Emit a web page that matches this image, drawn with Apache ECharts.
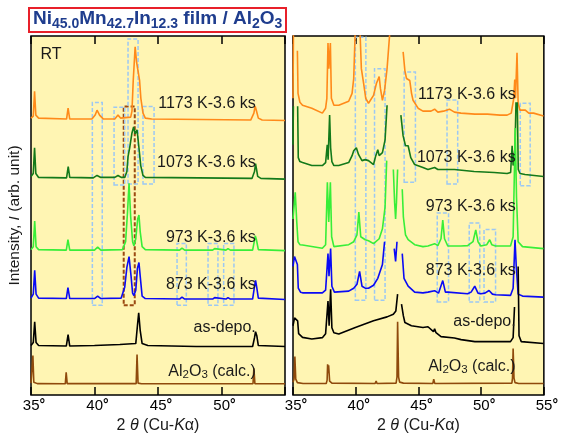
<!DOCTYPE html>
<html>
<head>
<meta charset="utf-8">
<title>Ni-Mn-In film XRD</title>
<script src="https://cdn.jsdelivr.net/npm/echarts@6/dist/echarts.min.js"></script>
<style>
  html, body { margin: 0; padding: 0; background: #fff; }
  #chart { width: 561px; height: 439px; }
</style>
</head>
<body>
<div id="chart"></div>
<script>
// XRD patterns, [2theta (deg), intensity (arb. unit, already stacked)]
// left panel: linear scale, right panel: weak peaks enlarged
var sampleNames = ['1173 K-3.6 ks', '1073 K-3.6 ks', '973 K-3.6 ks', '873 K-3.6 ks', 'as-depo.', 'Al2O3 (calc.)'];
var xTicks = [35, 40, 45, 50, 55];

var left1173 = [[35.0,280],[35.18,282],[35.28,307],[35.38,283],[35.6,280],[37.8,279],[37.92,290],[38.05,279],[39.8,279],[40.05,283],[40.2,288],[40.4,283],[40.7,279],[41.6,279],[41.85,283],[42.05,280],[42.85,281],[42.95,287],[43.05,318],[43.2,352],[43.32,336],[43.43,338],[43.55,318],[43.65,300],[43.82,285],[44.0,280],[44.5,279],[52.3,278],[52.55,285],[52.65,292],[52.72,289],[52.78,291],[52.9,280],[53.2,278],[55,277.5]];
var left1073 = [[35.0,221],[35.18,224],[35.28,250],[35.38,224],[35.6,220],[37.8,219.5],[37.93,231],[38.05,220],[39.9,219.5],[40.2,222],[40.5,220],[41.6,220],[41.85,222],[42.1,220],[42.38,220],[42.55,226],[42.64,241],[42.77,250],[42.95,265],[43.08,271],[43.2,264],[43.35,268],[43.5,250],[43.64,232],[43.82,222],[44.0,220],[52.4,219],[52.6,226],[52.68,234],[52.75,229],[52.85,221],[53.1,219],[55,218.3]];
var left973 = [[35.0,147],[35.18,150],[35.29,176],[35.4,150],[35.6,147],[37.78,146.5],[37.91,157],[38.05,146.5],[40.0,146.5],[40.25,149.5],[40.5,146.5],[42.2,147],[42.45,155],[42.6,185],[42.72,214],[42.85,180],[43.0,155],[43.1,151],[43.25,158],[43.4,178],[43.5,182],[43.6,165],[43.75,150],[44.0,147],[46.7,146.5],[46.89,148.5],[47.1,146.5],[49.3,146.5],[49.46,148],[49.6,146.5],[50.35,146.5],[50.51,148],[50.7,146.5],[52.45,146.5],[52.58,155],[52.66,161],[52.75,157],[52.9,147],[55,146]];
var left873 = [[35.0,98],[35.18,102],[35.29,126],[35.4,102],[35.6,98],[37.78,97.5],[37.91,108.5],[38.05,97.5],[40.0,97.5],[40.25,100],[40.5,97.5],[42.1,98],[42.38,109],[42.55,129],[42.72,140],[42.88,120],[43.0,103],[43.1,100.5],[43.25,106],[43.38,128],[43.5,134],[43.6,120],[43.75,100],[44.0,97.5],[46.7,97],[46.89,99],[47.1,97],[49.3,97],[49.46,98.5],[49.6,97],[50.35,97],[50.51,98.5],[50.7,97],[52.45,97],[52.58,108],[52.68,116],[52.76,110],[52.9,98],[55,96.5]];
var leftAsDepo = [[35.0,50],[35.18,53],[35.29,74],[35.4,53],[35.6,50],[37.78,49.5],[37.92,61],[38.05,49.5],[40.0,50],[42.0,51],[43.25,52],[43.38,70],[43.48,83],[43.6,65],[43.75,52],[44.2,50],[48.0,49],[52.45,49],[52.6,58],[52.68,64],[52.78,60],[52.9,50],[55,49]];
var leftAl2O3 = [[35.0,12],[35.1,14],[35.15,40],[35.22,13],[35.5,11.5],[37.7,11.3],[37.77,23],[37.85,11.5],[43.28,11.5],[43.35,41],[43.43,12],[43.7,11.3],[52.48,11.3],[52.55,27],[52.63,11.5],[55,11.3]];

var right1173 = [[35.0,300],[35.04,372],[35.2,null],[35.35,348],[35.4,305],[35.55,296],[35.76,293],[36.5,290],[37.34,285],[37.6,290],[37.7,300],[37.79,356],[37.86,330],[37.98,356],[38.06,300],[38.26,293],[38.65,293],[39.44,297],[39.71,305],[39.84,320],[39.97,372],[40.2,null],[40.33,372],[40.45,330],[40.63,315],[40.8,300],[41.02,295],[41.42,303],[41.65,315],[41.87,322],[41.97,310],[42.13,298],[42.3,308],[42.5,330],[42.75,372],[43.0,null],[43.78,347],[43.92,328],[44.05,320],[44.2,318],[44.31,318],[44.45,305],[44.57,298],[44.97,290],[45.36,287],[46.0,287],[46.29,289],[46.55,286],[47.0,287],[47.47,289],[47.87,286],[48.39,285],[49.5,284],[50.5,284],[51.5,283],[52.07,283],[52.4,285],[52.6,300],[52.68,319],[52.74,300],[52.86,346],[52.95,295],[53.1,288],[53.52,288],[53.8,285],[54.18,285],[54.97,282]];
var right1073 = [[35.0,253],[35.03,292],[35.2,null],[35.37,292],[35.42,240],[35.55,236],[35.76,235],[36.5,232],[37.34,232],[37.6,235],[37.73,253],[37.8,238],[37.92,283],[38.0,250],[38.1,236],[38.26,232],[38.65,232],[39.44,235],[39.71,242],[39.84,247],[40.05,250],[40.23,243],[40.5,237],[40.76,238],[41.02,237],[41.42,233],[41.6,242],[41.76,248],[41.87,242],[42.13,245],[42.34,258],[42.5,293],[42.6,null],[43.6,283],[43.78,262],[43.97,252],[44.18,252],[44.39,240],[44.7,233],[45.36,230],[45.76,228],[46.29,230],[46.55,228],[47.87,228],[49.44,226],[51.03,225],[52.07,224],[52.35,225],[52.47,252],[52.55,232],[52.7,250],[52.78,296],[52.82,null],[52.88,296],[52.96,228],[53.1,224],[53.5,223],[54.97,221]];
var right973 = [[35.0,178],[35.18,205],[35.3,175],[35.4,155],[35.55,152],[35.76,151.7],[37.34,148.3],[37.6,152],[37.74,215],[37.85,175],[37.98,215],[38.08,160],[38.26,150],[39.44,152],[39.84,155],[40.1,162],[40.25,185],[40.4,160],[40.76,157],[41.02,156],[41.42,153],[41.87,158],[42.13,168],[42.34,190],[42.47,237],[42.55,null],[43.0,228],[43.1,195],[43.18,178],[43.25,195],[43.34,228],[43.45,null],[43.71,208],[43.8,180],[43.97,162],[44.18,157],[44.7,152],[45.36,150],[45.76,150.7],[46.29,153],[46.55,151],[46.8,158],[46.94,177],[47.08,158],[47.34,150.7],[48.39,150.7],[48.92,151],[49.35,155],[49.57,167],[49.75,155],[49.97,150.7],[50.45,152],[50.68,157],[50.85,152],[51.15,150.7],[52.34,150.7],[52.55,160],[52.72,270],[52.82,200],[52.95,155],[53.3,150],[54.97,148]];
var right873 = [[35.0,130],[35.12,140],[35.2,138],[35.35,132],[35.42,108],[35.6,104],[35.76,103.3],[37.34,103.3],[37.6,106],[37.79,143],[37.87,120],[38.0,148],[38.1,110],[38.3,104],[39.44,105],[39.84,108],[40.1,112],[40.31,125],[40.5,110],[40.76,108],[41.02,108],[41.42,111],[41.76,118],[42.13,132],[42.3,155],[42.4,null],[43.07,148],[43.18,135],[43.29,155],[43.4,null],[43.71,143],[43.85,118],[44.18,110],[44.7,104],[45.36,103.3],[45.76,104],[46.29,105.5],[46.6,103],[46.94,115.7],[47.15,104],[47.34,104],[48.92,102.3],[49.2,104],[49.49,110],[49.75,103],[49.97,102.3],[50.3,103],[50.63,105.7],[50.9,102],[51.15,101.3],[52.34,100.7],[52.55,108],[52.7,157],[52.8,130],[52.95,102],[53.3,100],[54.97,99]];
var rightAsDepo = [[35.0,70],[35.12,78],[35.25,76],[35.37,75],[35.45,62],[35.76,58.3],[36.5,56.7],[37.34,58],[37.6,62],[37.79,95],[37.88,70],[38.0,107],[38.1,68],[38.26,63],[38.65,61.7],[39.97,68.3],[41.42,75],[42.5,79],[43.0,81.7],[43.2,85],[43.34,102],[43.5,null],[43.65,92],[43.8,80],[43.92,73.3],[44.44,70],[45.36,68.3],[45.76,69],[46.2,64],[46.29,67],[46.4,63],[46.8,59],[47.87,57.7],[48.4,56],[49.5,54],[50.5,54],[52.34,54],[52.55,58],[52.66,89],[52.72,null],[52.95,130],[53.02,60],[53.2,54],[54.97,52]];
var rightAl2O3 = [[35.0,13],[35.08,16],[35.15,39],[35.22,16],[35.35,12.5],[35.8,11.7],[37.65,11.7],[37.72,15],[37.76,31],[37.8,22],[37.84,30],[37.92,14],[38.1,12],[41.55,11.7],[41.63,14],[41.7,11.7],[43.22,12],[43.29,18],[43.34,74],[43.42,18],[43.5,13],[43.8,12],[46.15,11.7],[46.22,16],[46.3,11.7],[52.45,12],[52.5,17],[52.55,47],[52.62,17],[52.7,12.5],[53,11.7],[54.97,11.7]];

// marked peak regions [2theta from, 2theta to, I from, I to]
var leftBoxes = [[39.83,40.61,90.7,295.7],[41.54,42.38,212.3,291],[42.64,43.43,213.3,360],[43.82,44.69,213.3,291.7],[46.5,47.23,90.7,153.3],[48.94,49.72,90.7,153.3],[50.17,50.98,90.7,153.3]];
var leftBrownBox = [[42.3,43.17,90.7,291.7]];
var rightBoxes = [[39.97,40.81,95.7,361.7],[41.5,42.34,95.7,330],[43.86,44.76,215,326.7],[47.28,48.13,213.3,298.3],[53.12,53.91,211.7,295],[46.5,47.4,94,184],[49.05,49.89,94,174],[50.23,51.15,94,167.3]];

// where each sample name sits (right end of the text)
var leftNamePos = [[52.7,295],[52.7,235],[52.7,159],[52.7,112],[52.7,68],[52.7,24]];
var rightNamePos = [[52.75,304],[52.75,240],[52.75,190],[52.75,126],[52.75,74],[52.75,29]];

var leftData = [left1173, left1073, left973, left873, leftAsDepo, leftAl2O3];
var rightData = [right1173, right1073, right973, right873, rightAsDepo, rightAl2O3];
var colors = ['#ff8a1a', '#13791a', '#38ee38', '#0a0af5', '#000000', '#8f4a0c'];

var chart = echarts.init(document.getElementById('chart'), null, {renderer: 'canvas'});

var txt = '#1a1a1a';
var fontFam = '"Liberation Sans", Arial, sans-serif';

function nameLabel(i) {
    if (i === 5) return '{t|Al}{s|2}{t|O}{s|3}{t| (calc.)}';
    return '{t|' + sampleNames[i] + '}';
}

function boxArea(list, color, width) {
    return {
        silent: true,
        itemStyle: {color: 'rgba(0,0,0,0)', borderColor: color, borderWidth: width, borderType: [4, 2]},
        data: list.map(function (b) {
            return [{xAxis: b[0], yAxis: b[2]}, {xAxis: b[1], yAxis: b[3]}];
        })
    };
}

var series = [];
[leftData, rightData].forEach(function (set, g) {
    var namePos = g === 0 ? leftNamePos : rightNamePos;
    set.forEach(function (d, i) {
        var s = {
            type: 'line',
            xAxisIndex: g * 2,
            yAxisIndex: g,
            data: d,
            showSymbol: false,
            symbol: 'none',
            clip: true,
            connectNulls: false,
            lineStyle: {color: colors[i], width: 1.6},
            z: 3,
            markPoint: {
                silent: true,
                symbol: 'rect',
                symbolSize: 0,
                data: [{
                    coord: namePos[i],
                    label: {
                        show: true, position: 'left', distance: 0,
                        formatter: nameLabel(i),
                        rich: {
                            t: {fontSize: 16, color: txt, fontFamily: fontFam, lineHeight: 20, verticalAlign: 'middle'},
                            s: {fontSize: 11.5, color: txt, fontFamily: fontFam, lineHeight: 11, verticalAlign: 'bottom'}
                        }
                    }
                }]
            }
        };
        if (i === 5) {
            s.markArea = boxArea(g === 0 ? leftBoxes : rightBoxes, '#9cc8f4', 1.5);
        }
        if (g === 0 && i === 4) {
            s.markArea = boxArea(leftBrownBox, '#9b4a12', 2);
        }
        if (g === 0 && i === 0) {
            s.markPoint.data.push({
                coord: [35.75, 344],
                label: {show: true, position: 'right', distance: 0, formatter: 'RT',
                        fontSize: 16, color: txt, fontFamily: fontFam}
            });
        }
        series.push(s);
    });
});

var grids = [
    {left: 31, top: 36, width: 254, height: 363},
    {left: 293, top: 36, width: 254, height: 363}
];

var xAxes = [];
grids.forEach(function (gr, g) {
    xAxes.push({
        type: 'value', gridIndex: g, min: 35, max: 55, interval: 5, position: 'bottom',
        name: '{n|2 }{i|θ}{n| (Cu-}{i|K}{n|α)}',
        nameLocation: 'middle', nameGap: 23,
        nameTextStyle: {rich: {
            n: {fontSize: 16, color: txt, fontFamily: fontFam},
            i: {fontSize: 16, color: txt, fontFamily: fontFam, fontStyle: 'italic'}
        }},
        axisLine: {show: false},
        axisTick: {show: true, inside: true, length: 8, lineStyle: {color: '#000', width: 1.5}},
        splitLine: {show: false},
        axisLabel: {
            margin: 3,
            formatter: function (v) {
                if (g === 0 && v === 55) return '';
                return '{n|' + v + '}{d|°}';
            },
            rich: {
                n: {fontSize: 15, color: '#000', fontFamily: fontFam, padding: [0, 0, 0, 6]},
                d: {fontSize: 14, color: '#000', fontFamily: fontFam, fontWeight: 'bold', verticalAlign: 'top'}
            }
        }
    });
    xAxes.push({
        type: 'value', gridIndex: g, min: 35, max: 55, interval: 5, position: 'top',
        axisLine: {show: false},
        axisTick: {show: true, inside: true, length: 8, lineStyle: {color: '#000', width: 1.5}},
        axisLabel: {show: false},
        splitLine: {show: false}
    });
});

var yAxes = grids.map(function (gr, g) {
    return {
        type: 'value', gridIndex: g, min: 0, max: 363,
        axisLine: {show: false}, axisTick: {show: false}, axisLabel: {show: false}, splitLine: {show: false},
        name: g === 0 ? '{n|Intensity, }{i|I}{n| (arb. unit)}' : '',
        nameLocation: 'middle', nameRotate: 90, nameGap: 8,
        nameTextStyle: {rich: {
            n: {fontSize: 15.5, color: txt, fontFamily: fontFam},
            i: {fontSize: 15.5, color: txt, fontFamily: fontFam, fontStyle: 'italic'}
        }}
    };
});

chart.setOption({
    animation: false,
    backgroundColor: '#ffffff',
    title: {
        text: '{b|Ni}{s|45.0}{b|Mn}{s|42.7}{b|In}{s|12.3}{b| film / Al}{s|2}{b|O}{s|3}',
        left: 29, top: 5,
        padding: [2, 4, 1, 4],
        borderColor: '#e8202a', borderWidth: 2,
        textStyle: {rich: {
            b: {fontSize: 19, fontWeight: 'bold', color: '#1f3d8e', fontFamily: fontFam, lineHeight: 24, verticalAlign: 'middle'},
            s: {fontSize: 14, fontWeight: 'bold', color: '#1f3d8e', fontFamily: fontFam, lineHeight: 14, verticalAlign: 'bottom'}
        }}
    },
    grid: grids.map(function (gr) {
        return Object.assign({show: true, backgroundColor: '#fff5b3', borderColor: '#000', borderWidth: 1.5}, gr);
    }),
    xAxis: xAxes,
    yAxis: yAxes,
    series: series
});
</script>
</body>
</html>
